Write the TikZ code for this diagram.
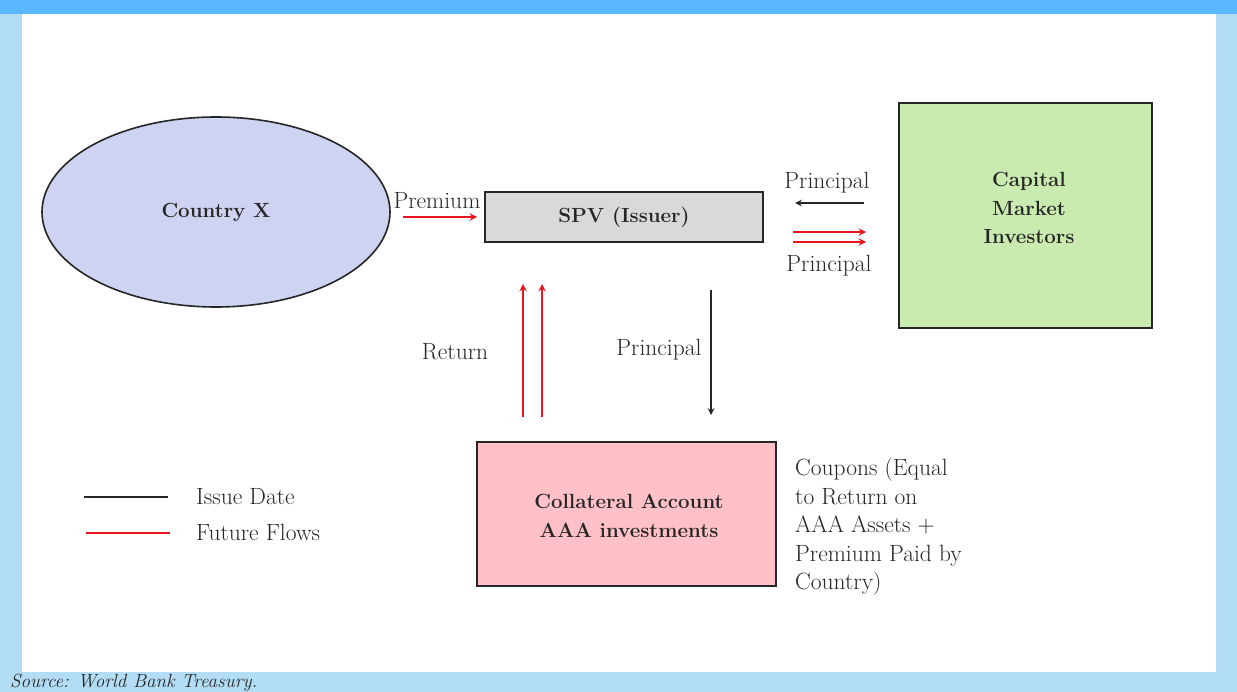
\documentclass[tikz,border=0pt]{standalone}
\usetikzlibrary{shapes.geometric}
\definecolor{barblue}{HTML}{5BB8FF}
\definecolor{paleblue}{HTML}{B3DDF5}
\definecolor{lavender}{HTML}{CDD3F0}
\definecolor{spvgrey}{HTML}{D9D9D9}
\definecolor{cmgreen}{HTML}{C9EBB0}
\definecolor{colpink}{HTML}{FFC0C8}
\definecolor{flowred}{HTML}{E8141E}
\definecolor{inkgrey}{HTML}{262626}
\tikzset{
  box/.style={draw=inkgrey, line width=1.6pt, inner sep=0pt, font=\fontsize{20.5}{28.5}\selectfont\bfseries, text=inkgrey, align=center},
  lbl/.style={font=\fontsize{23.5}{28.5}\selectfont, text=inkgrey, inner sep=0pt},
  issue/.style={->, draw=black!85, line width=2pt},
  future/.style={->, draw=flowred, line width=2.2pt}
}
\begin{document}
\begin{tikzpicture}[x=1pt, y=-1pt, >=stealth]
  % 1. frame
  \fill[paleblue] (0,0) rectangle (1237,692);
  \fill[barblue] (0,0) rectangle (1237,14);
  \fill[white] (22,14) rectangle (1216,672);
  \useasboundingbox (0,0) rectangle (1237,692);

  % 2. parties
  \node[box, ellipse, fill=lavender, minimum width=348, minimum height=190] (country) at (216,212) {Country X};
  \node[box, fill=spvgrey, minimum width=278, minimum height=50] (spv) at (624,217) {SPV (Issuer)};
  \node[box, fill=cmgreen, minimum width=253, minimum height=225] (investors) at (1025.5,215.5) {};
  \node[box, draw=none] (investorstext) at (1029,208) {Capital\\Market\\Investors};
  \node[box, fill=colpink, minimum width=299, minimum height=144] (collateral) at (626.5,514) {};
  \node[box, draw=none] (collateraltext) at (629,516) {Collateral Account\\AAA investments};

  % 3. flows
  \coordinate (premS) at (403,217);  \coordinate (premE) at (477,217);
  \draw[future] (premS) -- (premE);
  \node[lbl] (premium) at (437,201) {Premium};

  \coordinate (cmS) at (864,203);  \coordinate (cmE) at (795,203);
  \draw[issue] (cmS) -- (cmE);
  \node[lbl] (principalA) at (827,183) {Principal};
  \coordinate (pbS) at (793,232);  \coordinate (pbE) at (866,232);
  \coordinate (pcS) at (793,242);  \coordinate (pcE) at (866,242);
  \draw[future] (pbS) -- (pbE);
  \draw[future] (pcS) -- (pcE);
  \node[lbl] (principalB) at (829,266) {Principal};

  \coordinate (raS) at (523,417);  \coordinate (raE) at (523,284);
  \coordinate (rbS) at (542,417);  \coordinate (rbE) at (542,284);
  \draw[future] (raS) -- (raE);
  \draw[future] (rbS) -- (rbE);
  \node[lbl] (return) at (455,352) {Return};

  \coordinate (dnS) at (711,290);  \coordinate (dnE) at (711,415);
  \draw[issue] (dnS) -- (dnE);
  \node[lbl] (principalC) at (659,350) {Principal};

  \node[lbl, anchor=north west, align=left] (coupons) at (795,458) {Coupons (Equal\\to Return on\\AAA Assets +\\Premium Paid by\\Country)};

  % 4. legend
  \coordinate (lgA) at (84,497);  \coordinate (lgB) at (168,497);
  \coordinate (lgC) at (86,533);  \coordinate (lgD) at (170,533);
  \draw[black!85, line width=2pt] (lgA) -- (lgB);
  \draw[flowred, line width=2pt] (lgC) -- (lgD);
  \node[lbl, anchor=west] (issuedate) at (196,497) {Issue Date};
  \node[lbl, anchor=west] (futureflows) at (196,532) {Future Flows};

  % 5. source
  \node[lbl, anchor=west, font=\fontsize{19}{22}\selectfont\itshape] (source) at (10,683) {Source: World Bank Treasury.};
\end{tikzpicture}
\end{document}
